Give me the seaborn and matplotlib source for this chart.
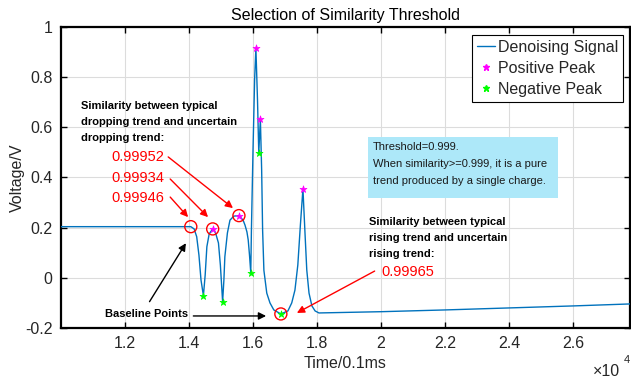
import matplotlib
matplotlib.use("Agg")
import matplotlib.pyplot as plt
import seaborn as sns
import pandas as pd
from matplotlib.lines import Line2D
from matplotlib.patches import Rectangle

# ---------------- data ----------------
time = [10000, 14056, 14160, 14240, 14310, 14375, 14450, 14505, 14558, 14630,
        14740, 14830, 14920, 14980, 15050, 15090, 15120, 15200, 15280, 15400,
        15560, 15690, 15750, 15810, 15850, 15890, 15930, 15950, 16000, 16050,
        16090, 16140, 16180, 16230, 16270, 16300, 16340, 16430, 16530, 16650,
        16870, 17090, 17210, 17310, 17400, 17480, 17560, 17620, 17680, 17750,
        17840, 17940, 18060, 20000, 22000, 24000, 26000, 27800]
voltage = [0.204, 0.204, 0.195, 0.164, 0.091, -0.009, -0.071, 0.011, 0.124, 0.175,
           0.195, 0.179, 0.139, 0.051, -0.095, -0.009, 0.084, 0.179, 0.230, 0.246,
           0.248, 0.230, 0.210, 0.183, 0.151, 0.091, 0.020, 0.190, 0.510, 0.790,
           0.916, 0.710, 0.498, 0.633, 0.430, 0.190, 0.030, -0.061, -0.100, -0.128,
           -0.144, -0.132, -0.100, -0.049, 0.051, 0.210, 0.355, 0.190, 0.031, -0.061,
           -0.112, -0.132, -0.140, -0.135, -0.128, -0.120, -0.112, -0.104]

pos_time = [14740, 15560, 16090, 16230, 17560]
pos_volt = [0.195, 0.248, 0.916, 0.633, 0.355]
neg_time = [14450, 15050, 15930, 16180, 16870]
neg_volt = [-0.071, -0.095, 0.020, 0.498, -0.144]

circ_time = [14056, 14740, 15560, 16870]
circ_volt = [0.204, 0.195, 0.248, -0.144]

drop_sims = ["0.99952", "0.99934", "0.99946"]
rise_sim = "0.99965"

xticks = [12000, 14000, 16000, 18000, 20000, 22000, 24000, 26000]
xtick_labels = ["1.2", "1.4", "1.6", "1.8", "2", "2.2", "2.4", "2.6"]
yticks = [-0.2, 0, 0.2, 0.4, 0.6, 0.8, 1]
ytick_labels = ["-0.2", "0", "0.2", "0.4", "0.6", "0.8", "1"]

# ---------------- styling ----------------
sns.set_theme(style="ticks")
plt.rcParams["font.family"] = ["Liberation Sans", "DejaVu Sans"]

W, H = 631, 379
fig = plt.figure(figsize=(W / 100, H / 100), dpi=100)
L, R, T, B = 61, 630, 27, 328
ax = fig.add_axes([L / W, 1 - B / H, (R - L) / W, (B - T) / H])


def fx(px):
    return px / W


def fy(py):
    return 1 - py / H


sig = pd.DataFrame({"t": time, "v": voltage})
sns.lineplot(data=sig, x="t", y="v", ax=ax, color="#0072BD", lw=1.0,
             estimator=None, sort=False, zorder=3)

sns.scatterplot(x=pos_time, y=pos_volt, ax=ax, color="#FF00FF", marker="*",
                s=28, linewidth=0.5, edgecolor="#FF00FF", zorder=5)
sns.scatterplot(x=neg_time, y=neg_volt, ax=ax, color="#00FF00", marker="*",
                s=28, linewidth=0.5, edgecolor="#00FF00", zorder=5)
sns.scatterplot(x=circ_time, y=circ_volt, ax=ax, marker="o", s=75,
                fc="none", ec="red", linewidth=1.0, zorder=6)

ax.set_xlim(10000, 27780)
ax.set_ylim(-0.2, 1.0)
ax.set_xticks(xticks)
ax.set_xticklabels(xtick_labels)
ax.set_yticks(yticks)
ax.set_yticklabels(ytick_labels)
ax.grid(True, color="#dcdcdc", lw=0.8)
ax.set_axisbelow(True)
ax.tick_params(direction="in", top=True, right=True, length=4, width=1,
               colors="black", labelcolor="#262626", labelsize=11.5, pad=6)
for s in ax.spines.values():
    s.set_linewidth(1.6)
    s.set_color("black")
ax.set_xlabel("Time/0.1ms", fontsize=11.5, color="#262626", labelpad=3)
ax.set_ylabel("Voltage/V", fontsize=11.5, color="#262626")
ax.yaxis.set_label_coords((25 - L) / (R - L), 0.5)
ax.set_title("Selection of Similarity Threshold", fontsize=11.5, color="black", pad=5)

fig.text(fx(593), fy(372), "\u00d710", fontsize=11.5, color="#262626",
         ha="left", va="center")
fig.text(fx(624), fy(360), "4", fontsize=8, color="#262626", ha="left", va="center")

# legend
handles = [Line2D([], [], color="#0072BD", lw=1),
           Line2D([], [], color="#FF00FF", marker="*", ls="none", ms=4.5),
           Line2D([], [], color="#00FF00", marker="*", ls="none", ms=4.5)]
leg = ax.legend(handles, ["Denoising Signal", "Positive Peak", "Negative Peak"],
                loc="upper right", bbox_to_anchor=((623 - L) / (R - L), (B - 35) / (B - T)),
                fontsize=11.5, frameon=True, fancybox=False, framealpha=1,
                edgecolor="black", borderpad=0.3, labelspacing=0.38,
                handlelength=1.1, handletextpad=0.2, borderaxespad=0)
leg.get_frame().set_linewidth(0.8)

# threshold box
fig.patches.append(Rectangle((fx(368), fy(198)), (558 - 368) / W, (198 - 137) / H,
                             transform=fig.transFigure, fc="#ADE8F9", ec="none",
                             zorder=4))
fig.text(fx(373), fy(164), "Threshold=0.999.\nWhen similarity>=0.999, it is a pure\n"
         "trend produced by a single charge.", fontsize=8, color="#1a1a1a",
         ha="left", va="center", linespacing=1.85, zorder=5)

# dropping trend annotation
fig.text(fx(81), fy(122), "Similarity between typical\ndropping trend and uncertain\n"
         "dropping trend:", fontsize=8, fontweight="bold", color="black",
         ha="left", va="center", linespacing=1.72)
red_tails = [(13350, 0.482), (13412, 0.394), (13412, 0.322)]
red_heads = [(15374, 0.278), (14595, 0.242), (13972, 0.242)]
text_y = [157, 178, 198]
for lbl, ty, tail, head in zip(drop_sims, text_y, red_tails, red_heads):
    fig.text(fx(111), fy(ty), lbl, fontsize=10.5, color="red", ha="left", va="center")
    ax.annotate("", xy=head, xytext=tail,
                arrowprops=dict(arrowstyle="-|>", color="red", lw=1,
                                mutation_scale=11, shrinkA=0, shrinkB=0))

# rising trend annotation
fig.text(fx(369), fy(238), "Similarity between typical\nrising trend and uncertain\n"
         "rising trend:", fontsize=8, fontweight="bold", color="black",
         ha="left", va="center", linespacing=1.72)
fig.text(fx(381), fy(272), rise_sim, fontsize=10.5, color="red", ha="left", va="center")
ax.annotate("", xy=(17371, -0.140), xytext=(19801, 0.027),
            arrowprops=dict(arrowstyle="-|>", color="red", lw=1,
                            mutation_scale=11, shrinkA=0, shrinkB=0))

# baseline points annotation
fig.text(fx(105), fy(314), "Baseline Points", fontsize=8, fontweight="bold",
         color="black", ha="left", va="center")
ax.annotate("", xy=(16409, -0.152), xytext=(14135, -0.152),
            arrowprops=dict(arrowstyle="-|>", color="black", lw=1,
                            mutation_scale=11, shrinkA=0, shrinkB=0))
ax.annotate("", xy=(13903, 0.138), xytext=(12766, -0.095),
            arrowprops=dict(arrowstyle="-|>", color="black", lw=1,
                            mutation_scale=11, shrinkA=0, shrinkB=0))

fig.savefig("out.png", dpi=100)
